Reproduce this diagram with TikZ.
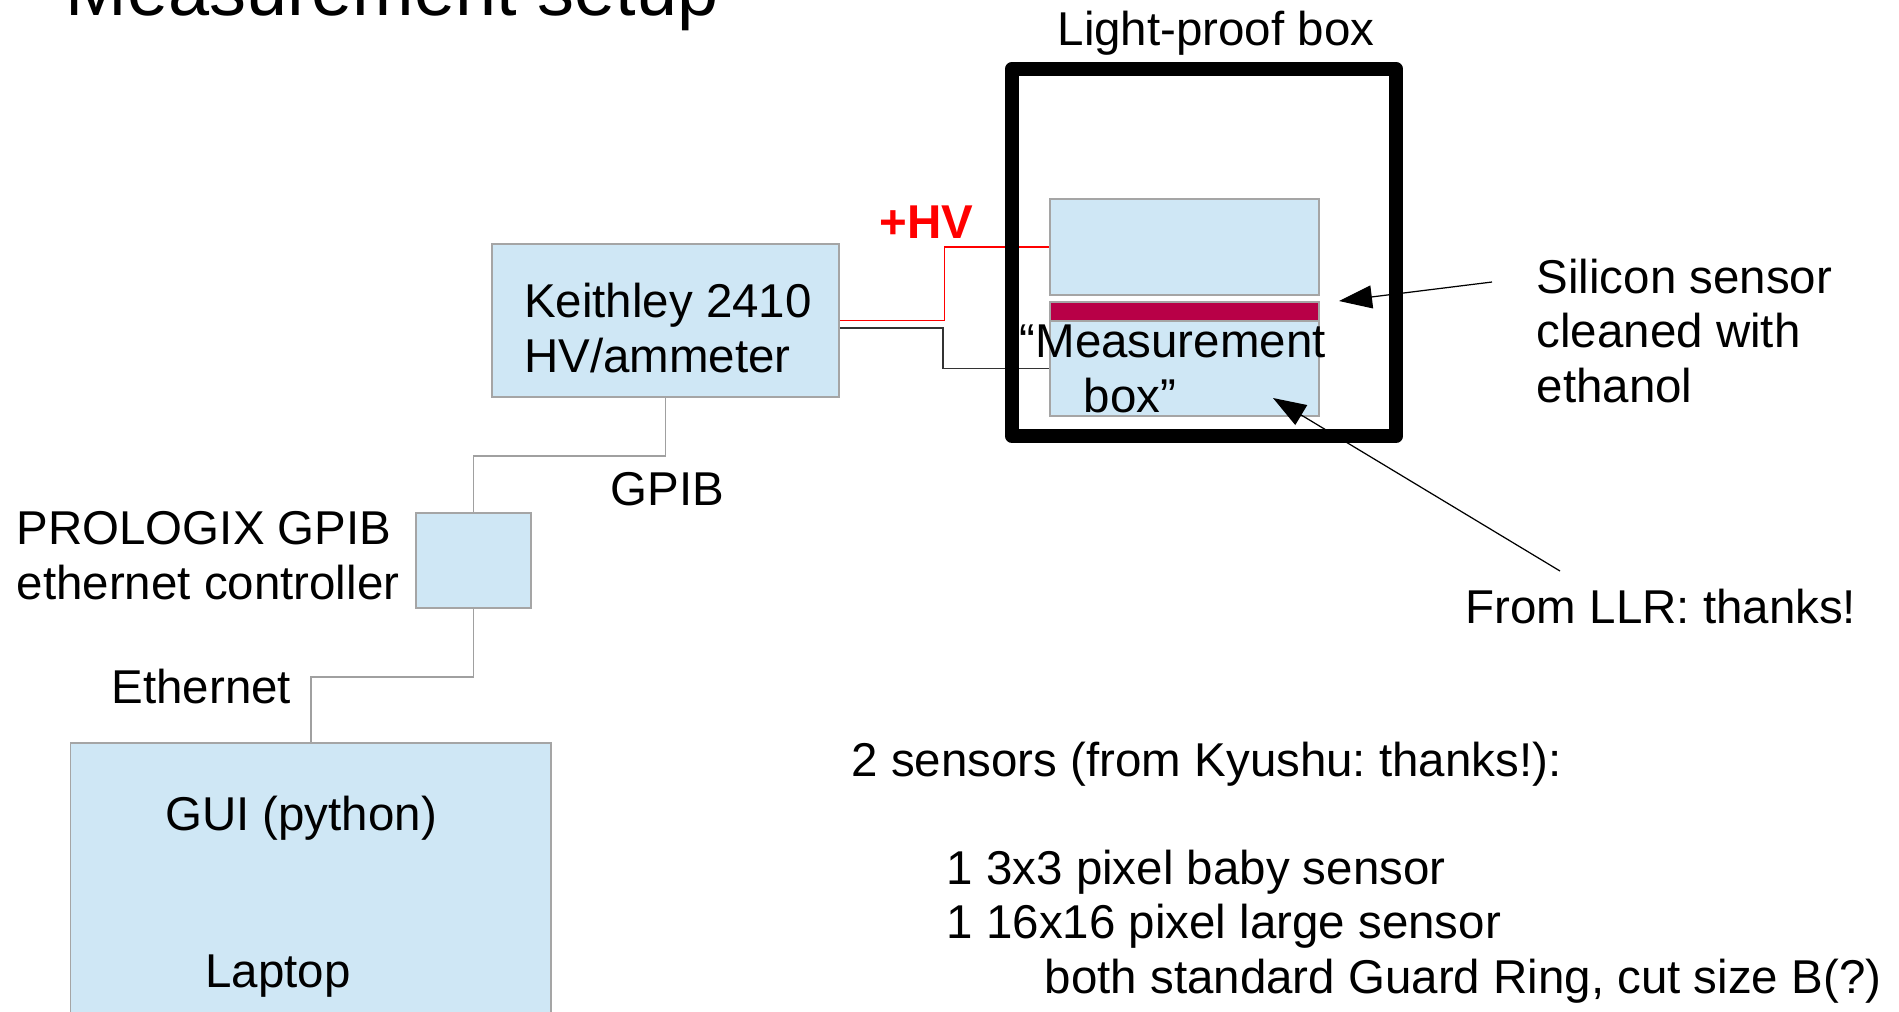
\documentclass[tikz,border=0pt]{standalone}
\usepackage{fontspec}
\setmainfont{Liberation Sans}
\usepackage{xcolor}
\usepackage{tikz}
\usetikzlibrary{arrows.meta,positioning,calc}
\definecolor{boxfill}{RGB}{207,231,245}
\definecolor{boxline}{RGB}{165,165,165}
\definecolor{sensorred}{RGB}{184,0,71}
\definecolor{hvred}{RGB}{255,0,0}
\definecolor{cablegray}{RGB}{160,160,160}
\newcommand{\bodysize}{\fontsize{13.5pt}{15.4pt}\selectfont}
\newcommand{\titlesize}{\fontsize{21pt}{25pt}\selectfont}
\frenchspacing

\begin{document}
\begin{tikzpicture}[x=0.01cm, y=-0.01cm,
  box/.style={draw=boxline, fill=boxfill, line width=0.4pt, inner sep=0pt,
              font=\bodysize, align=left},
  txt/.style={inner sep=0pt, font=\bodysize, align=left, anchor=base west},
  cable/.style={draw=cablegray, line width=0.45pt},
  hvwire/.style={draw=hvred, line width=0.35pt},
  gndwire/.style={draw=black!80, line width=0.4pt},
  ptr/.style={-{Triangle[length=0.33cm, width=0.23cm]}, line width=0.35pt, draw=black}]
  \useasboundingbox (0,0) rectangle (1899,1011);
  \node[txt, font=\titlesize] (title) at (65,15) {Measurement setup};
  \node[box, minimum width=3.47cm, minimum height=1.53cm, text height=1.04cm, text depth=0.01cm] (keith) at (665.5,320.5) {\hspace*{0.05cm}Keithley 2410\\\hspace*{0.05cm}HV/ammeter};
  \node[box, minimum width=1.15cm, minimum height=0.95cm] (prolog) at (473.5,560.5) {};
  \node[box, minimum width=4.805cm, minimum height=3.2cm] (laptop) at (310.75,903) {};
  \node[txt] (prologtxt) at (16,599) {PROLOGIX GPIB\\ethernet controller};
  \node[txt] (gpib) at (610,505) {GPIB};
  \node[txt] (eth) at (111,703) {Ethernet};
  \node[txt, anchor=base] (gui) at (301,830) {GUI (python)};
  \node[txt, anchor=base] (laptoptxt) at (278,987) {Laptop};
  \node[box, minimum width=2.69cm, minimum height=0.96cm] (lidbox) at (1184.5,247) {};
  \node[box, fill=sensorred, minimum width=2.69cm, minimum height=0.19cm] (sensor) at (1184.5,311.5) {};
  \node[box, minimum width=2.69cm, minimum height=0.95cm] (mbox) at (1184.5,368.5) {};
  \draw[cable] (keith.south) -- ++(0,58) -| (prolog.north);
  \draw[cable] (prolog.south) -- ++(0,68) -| (laptop.north);
  \draw[hvwire] (keith.east) -- ++(105,0) |- (lidbox.west);
  \draw[gndwire] ([yshift=-0.075cm]keith.east) -- ++(103,0) |- (mbox.west);
  \node[draw, line width=0.145cm, line join=round, minimum width=3.84cm, minimum height=3.665cm] (lpbox) at (1204,252.5) {};
  \node[txt, anchor=base] (lptxt) at (1216,45) {Light-proof box};
  \node[txt, font=\bodysize\bfseries, text=hvred] (hv) at (879,238) {+HV};
  \node[txt] (mtxt) at (1019,412) {“Measurement\\\hspace*{0.64cm}box”};
  \node[txt] (sitxt) at (1536,402) {Silicon sensor\\cleaned with\\ethanol};
  \node[txt] (llr) at (1465,623) {From LLR: thanks!};
  \node[txt] (kyushu) at (851,993) {2 sensors (from Kyushu: thanks!):\\[15.4pt]
    \hspace*{0.95cm}1 3x3 pixel baby sensor\\
    \hspace*{0.95cm}1 16x16 pixel large sensor\\
    \hspace*{1.93cm}both standard Guard Ring, cut size B(?)};
  \coordinate (si-from) at (1492,282);
  \coordinate (si-tip) at (1339,301);
  \coordinate (llr-from) at (1560,571);
  \coordinate (llr-tip) at (1273,398);
  \draw[ptr] (si-from) -- (si-tip);
  \draw[ptr] (llr-from) -- (llr-tip);
\end{tikzpicture}
\end{document}
